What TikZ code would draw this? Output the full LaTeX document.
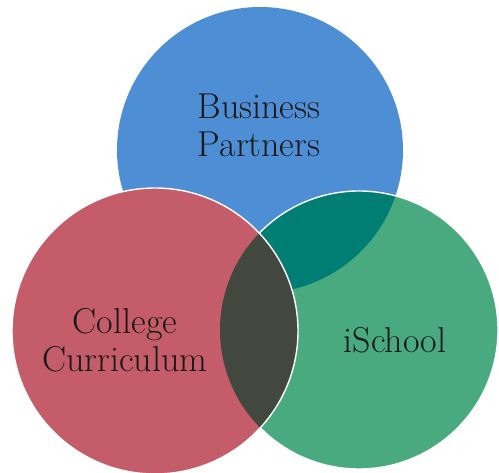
\documentclass[tikz,border=0pt]{standalone}
\usetikzlibrary{positioning}
\definecolor{cblue}{RGB}{78,142,212}
\definecolor{cred}{RGB}{196,92,106}
\definecolor{cgreen}{RGB}{73,170,128}
\definecolor{cteal}{RGB}{0,126,116}
\definecolor{cdark}{RGB}{66,72,62}
\tikzset{
  lbl/.style={font=\fontsize{36}{38}\selectfont, text=black!90, align=center, inner sep=0pt},
  rim/.style={draw=white, line width=1.4pt}
}
\begin{document}
\begin{tikzpicture}[x=1pt,y=-1pt]
\useasboundingbox (0,0) rectangle (499,473);
\coordinate (cb) at (260,150);
\coordinate (cr) at (155,331);
\coordinate (cg) at (359,330);
% blue
\fill[cblue] (cb) circle[radius=143pt];
% green
\fill[cgreen] (cg) circle[radius=139pt];
% blue-green overlap
\begin{scope}
  \clip (cb) circle[radius=143pt];
  \fill[cteal] (cg) circle[radius=139pt];
\end{scope}
\draw[rim] (cg) circle[radius=139pt];
% red
\fill[cred] (cr) circle[radius=143pt];
% red-green overlap
\begin{scope}
  \clip (cr) circle[radius=143pt];
  \fill[cdark] (cg) circle[radius=139pt];
\end{scope}
\draw[rim] (cr) circle[radius=143pt];
% labels
\node[lbl] (bp) at (259,125) {Business\\Partners};
\node[lbl] (cc) at (125,340) {College\\Curriculum};
\node[lbl, anchor=base] (is) at (395,353) {iSchool};
\end{tikzpicture}
\end{document}
